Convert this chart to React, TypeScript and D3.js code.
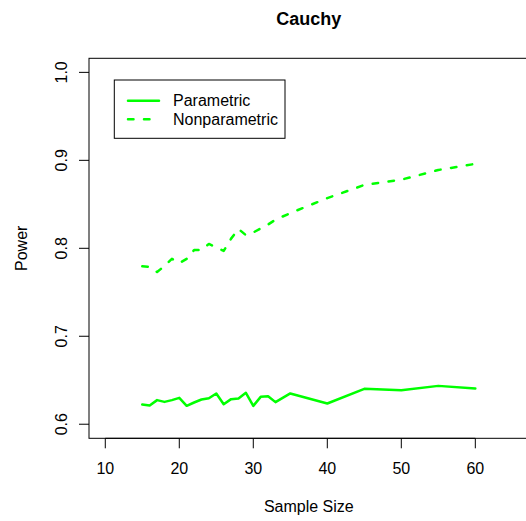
import React from "react";
import * as d3 from "d3";

// Power of the two tests by sample size
const sampleSizes = [15, 16, 17, 18, 19, 20, 21, 22, 23, 24, 25, 26, 27, 28, 29, 30, 31, 32, 33, 35, 40, 45, 50, 55, 60];
const parametric = [0.6224, 0.6213, 0.6274, 0.6254, 0.6274, 0.63, 0.6209, 0.6247, 0.6281, 0.6296, 0.635, 0.6228, 0.6285, 0.6293, 0.6357, 0.6209, 0.6311, 0.6319, 0.6251, 0.635, 0.6236, 0.6402, 0.6387, 0.6436, 0.6407];
const nonparametric = [0.7795, 0.779, 0.773, 0.780, 0.788, 0.783, 0.788, 0.798, 0.798, 0.805, 0.801, 0.797, 0.811, 0.822, 0.815, 0.818, 0.8225, 0.827, 0.8325, 0.840, 0.857, 0.872, 0.878, 0.889, 0.896];
const xTicks = [10, 20, 30, 40, 50, 60];
const yTicks = [0.6, 0.7, 0.8, 0.9, 1.0];
const seriesNames = ["Parametric", "Nonparametric"];

const W = 526;
const H = 521;
const box = { left: 89, right: 528.6, top: 58.3, bottom: 438.3 };
const FONT = "'Liberation Sans', Arial, Helvetica, sans-serif";
const GREEN = "#00ff00";

export default function App() {
  // R-style 4% padding around the data limits
  const xLim: [number, number] = [10, 65];
  const yLim: [number, number] = [0.6, 1.0];
  const xPad = (xLim[1] - xLim[0]) * 0.04;
  const yPad = (yLim[1] - yLim[0]) * 0.04;
  const x = d3.scaleLinear().domain([xLim[0] - xPad, xLim[1] + xPad]).range([box.left, box.right]);
  const y = d3.scaleLinear().domain([yLim[0] - yPad, yLim[1] + yPad]).range([box.bottom, box.top]);

  const line = d3
    .line<[number, number]>()
    .x((d) => x(d[0]))
    .y((d) => y(d[1]));

  const paramPath = line(sampleSizes.map((s, i) => [s, parametric[i]]) as [number, number][]) || "";
  const nonparamPath = line(sampleSizes.map((s, i) => [s, nonparametric[i]]) as [number, number][]) || "";

  const dash = "5.5,10.5";
  const lw = 2.5;

  const legend = { x0: 114.3, x1: 285, y0: 80, y1: 138.3, rows: [100.7, 119.3] };

  return (
    <svg
      width={W}
      height={H}
      style={{ position: "absolute", left: 0, top: 0, background: "#fff" }}
      fontFamily={FONT}
    >
      <rect x={0} y={0} width={W} height={H} fill="#fff" />
      <text x={(box.left + box.right) / 2} y={25} textAnchor="middle" fontSize={18} fontWeight="bold">
        Cauchy
      </text>

      {/* data lines */}
      <path d={paramPath} fill="none" stroke={GREEN} strokeWidth={lw} strokeLinejoin="round" strokeLinecap="round" />
      <path
        d={nonparamPath}
        fill="none"
        stroke={GREEN}
        strokeWidth={lw}
        strokeDasharray={dash}
        strokeLinejoin="round"
        strokeLinecap="round"
      />

      {/* plot frame */}
      <rect
        x={box.left}
        y={box.top}
        width={box.right - box.left}
        height={box.bottom - box.top}
        fill="none"
        stroke="#000"
        strokeWidth={1}
      />

      {/* x axis */}
      <line x1={x(xTicks[0])} x2={x(xTicks[xTicks.length - 1])} y1={box.bottom} y2={box.bottom} stroke="#000" />
      {xTicks.map((t) => (
        <g key={t}>
          <line x1={x(t)} x2={x(t)} y1={box.bottom} y2={box.bottom + 10} stroke="#000" />
          <text x={x(t)} y={474} textAnchor="middle" fontSize={16}>
            {t}
          </text>
        </g>
      ))}
      <text x={(box.left + box.right) / 2} y={512} textAnchor="middle" fontSize={16}>
        Sample Size
      </text>

      {/* y axis */}
      {yTicks.map((t) => (
        <g key={t}>
          <line x1={box.left - 10} x2={box.left} y1={y(t)} y2={y(t)} stroke="#000" />
          <text
            transform={`translate(67,${y(t)}) rotate(-90)`}
            textAnchor="middle"
            fontSize={16}
          >
            {t.toFixed(1)}
          </text>
        </g>
      ))}
      <text
        transform={`translate(27,${(box.top + box.bottom) / 2}) rotate(-90)`}
        textAnchor="middle"
        fontSize={16}
      >
        Power
      </text>

      {/* legend */}
      <rect
        x={legend.x0}
        y={legend.y0}
        width={legend.x1 - legend.x0}
        height={legend.y1 - legend.y0}
        fill="#fff"
        stroke="#000"
        strokeWidth={1}
      />
      {seriesNames.map((name, i) => (
        <g key={name}>
          <line
            x1={128}
            x2={159}
            y1={legend.rows[i]}
            y2={legend.rows[i]}
            stroke={GREEN}
            strokeWidth={lw}
            strokeDasharray={i === 1 ? dash : undefined}
            strokeLinecap="round"
          />
          <text x={173} y={legend.rows[i]} dominantBaseline="central" fontSize={16}>
            {name}
          </text>
        </g>
      ))}
    </svg>
  );
}
